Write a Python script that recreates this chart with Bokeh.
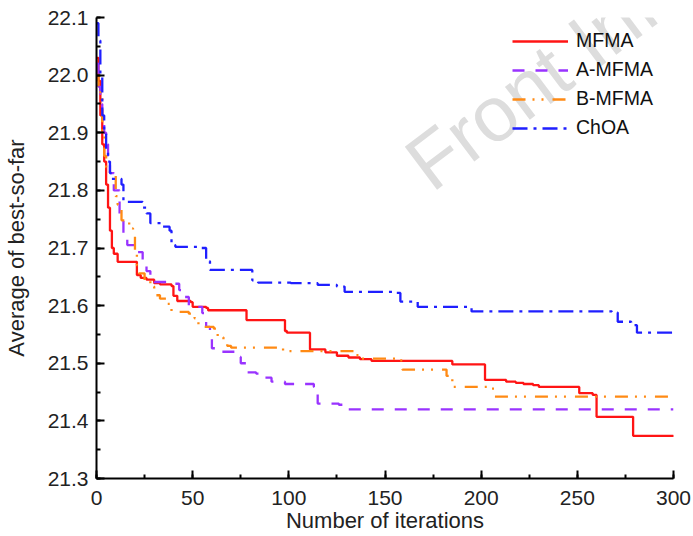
from bokeh.plotting import figure
from bokeh.models import (Range1d, SingleIntervalTicker, Legend, LegendItem,
                          Label, PrintfTickFormatter)
from bokeh.embed import file_html
from bokeh.resources import INLINE

# Average best-so-far value per iteration (step curves)
mfma_iter = [0, 1, 2, 3, 4, 5, 6, 7, 8, 9, 11, 21, 23, 26, 30, 33, 39, 40, 42, 49,
             50, 57, 58, 78, 98, 99, 111, 119, 125, 131, 137, 143, 185, 202, 213,
             218, 222, 227, 230, 251, 258, 260, 279, 300]
mfma_val = [22.03, 21.99, 21.93, 21.88, 21.85, 21.81, 21.77, 21.73, 21.70, 21.69,
            21.676, 21.653, 21.648, 21.645, 21.639, 21.637, 21.634, 21.617, 21.608,
            21.606, 21.598, 21.596, 21.592, 21.575, 21.556, 21.553, 21.524, 21.519,
            21.513, 21.510, 21.507, 21.504, 21.498, 21.471, 21.468, 21.466, 21.464,
            21.462, 21.459, 21.448, 21.445, 21.407, 21.374, 21.372]

a_mfma_iter = [0, 1, 2, 3, 4, 5, 6, 7, 9, 12, 14, 16, 21, 24, 26, 28, 30, 37, 43,
               44, 48, 52, 55, 57, 59, 60, 64, 72, 75, 78, 83, 87, 91, 98, 113, 115,
               126, 129, 131, 300]
a_mfma_val = [22.02, 21.98, 21.95, 21.92, 21.90, 21.88, 21.86, 21.83, 21.80, 21.75,
              21.725, 21.705, 21.693, 21.672, 21.66, 21.648, 21.641, 21.638, 21.627,
              21.615, 21.60, 21.598, 21.587, 21.563, 21.545, 21.526, 21.52, 21.511,
              21.50, 21.484, 21.482, 21.475, 21.468, 21.464, 21.459, 21.43, 21.428,
              21.423, 21.42, 21.42]

b_mfma_iter = [0, 1, 2, 3, 4, 5, 7, 10, 11, 13, 17, 19, 20, 21, 22, 25, 28, 30, 33,
               37, 39, 48, 51, 53, 61, 63, 66, 68, 70, 97, 135, 137, 157, 159, 182,
               185, 204, 207, 300]
b_mfma_val = [22.0, 21.98, 21.96, 21.90, 21.86, 21.84, 21.83, 21.79, 21.775, 21.748,
              21.734, 21.72, 21.693, 21.67, 21.656, 21.644, 21.633, 21.618, 21.612,
              21.603, 21.589, 21.586, 21.578, 21.563, 21.56, 21.545, 21.54, 21.53,
              21.527, 21.521, 21.514, 21.508, 21.505, 21.489, 21.478, 21.459, 21.456,
              21.442, 21.44]

choa_iter = [0, 1, 2, 3, 4, 5, 6, 7, 8, 13, 14, 24, 26, 28, 34, 38, 39, 41, 54, 57,
             59, 81, 84, 101, 115, 125, 129, 156, 158, 167, 195, 268, 271, 278, 281, 300]
choa_val = [22.09, 22.06, 22.0, 21.93, 21.90, 21.87, 21.85, 21.83, 21.82, 21.81,
            21.78, 21.77, 21.76, 21.743, 21.737, 21.73, 21.705, 21.702, 21.70, 21.677,
            21.662, 21.644, 21.64, 21.639, 21.636, 21.633, 21.624, 21.622, 21.607,
            21.598, 21.59, 21.588, 21.572, 21.566, 21.553, 21.553]

series_names = ["MFMA", "A-MFMA", "B-MFMA", "ChOA"]
series_iters = [mfma_iter, a_mfma_iter, b_mfma_iter, choa_iter]
series_vals = [mfma_val, a_mfma_val, b_mfma_val, choa_val]

colors = ["#ff1414", "#9933ff", "#ff8a14", "#1f1fff"]
dashes = ["solid", "12 11", "13 7 2 7 2 9", "15 6 3 6"]

FONT = "Liberation Sans"

p = figure(width=693, height=536, output_backend="svg", toolbar_location=None,
           x_range=Range1d(0, 300), y_range=Range1d(21.3 - 1e-9, 22.1 + 1e-9),
           min_border_left=96, min_border_right=20, min_border_top=17,
           min_border_bottom=58)
p.outline_line_color = None
p.xgrid.visible = False
p.ygrid.visible = False
p.background_fill_color = "white"

# Watermark (added before the legend so the legend sits on top of it)
p.add_layout(Label(x=166, y=21.832, text="Front Info", angle=37, angle_units="deg",
                   text_font=FONT, text_font_size="78px", text_color="#dddddd",
                   text_baseline="alphabetic", level="annotation"))

renderers = []
for it, vals, col, dash in zip(series_iters, series_vals, colors, dashes):
    assert len(it) == len(vals)
    r = p.step(it, vals, mode="after", line_color=col, line_width=2.3,
               line_dash=dash)
    renderers.append(r)

# Axes
for ax in (p.xaxis[0], p.yaxis[0]):
    ax.axis_line_color = "black"
    ax.axis_line_width = 2
    ax.major_tick_line_color = "black"
    ax.major_tick_line_width = 2
    ax.minor_tick_line_color = "black"
    ax.minor_tick_line_width = 2
    ax.major_tick_in = 8
    ax.major_tick_out = 0
    ax.minor_tick_in = 4
    ax.minor_tick_out = 0
    ax.major_label_text_font = FONT
    ax.major_label_text_font_size = "21px"
    ax.major_label_text_color = "#222222"
    ax.axis_label_text_font = FONT
    ax.axis_label_text_font_size = "22px"
    ax.axis_label_text_font_style = "normal"
    ax.axis_label_text_color = "#222222"

p.xaxis.ticker = SingleIntervalTicker(interval=50, num_minor_ticks=2)
p.yaxis.ticker = SingleIntervalTicker(interval=0.1, num_minor_ticks=2)
p.yaxis.formatter = PrintfTickFormatter(format="%.1f")
p.xaxis.axis_label = "Number of iterations"
p.yaxis.axis_label = "Average of best-so-far"
p.xaxis.major_label_standoff = 12
p.xaxis.axis_label_standoff = 0
p.yaxis.major_label_standoff = 8
p.yaxis.axis_label_standoff = 16

legend = Legend(items=[LegendItem(label=n, renderers=[r])
                       for n, r in zip(series_names, renderers)],
                location=(416, 339), border_line_color=None,
                background_fill_alpha=0, label_text_font=FONT,
                label_text_font_size="19.5px", label_text_color="#111111",
                glyph_width=56, glyph_height=20, label_height=20,
                label_standoff=8, spacing=6, padding=0, margin=0)
p.add_layout(legend)

open("out.html", "w").write(file_html(p, INLINE))
